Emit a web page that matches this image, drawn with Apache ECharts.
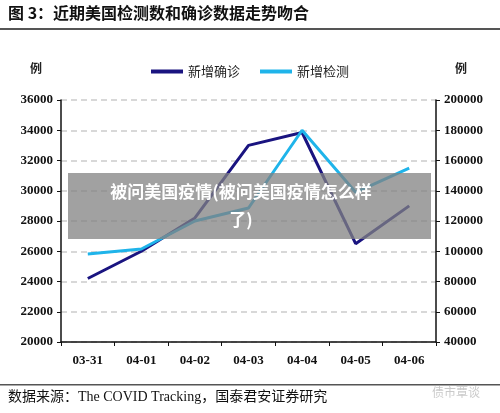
<!DOCTYPE html>
<html><head><meta charset="utf-8">
<script src="https://cdn.jsdelivr.net/npm/echarts@6/dist/echarts.min.js"></script>
<style>html,body{margin:0;padding:0;background:#fff}#c{width:500px;height:413px}</style>
</head><body><div id="c"></div>
<script>
var categories = ['03-31', '04-01', '04-02', '04-03', '04-04', '04-05', '04-06'];
var confirmed = [24200, 26000, 28200, 33000, 33850, 26500, 29000];
var tests = [98200, 101500, 120000, 128600, 180000, 139000, 155000];

var serif = '"Liberation Serif", "Noto Sans CJK SC", serif';
var plain = function(v) { return String(v); };
var chart = echarts.init(document.getElementById('c'));
chart.setOption({
	animation: false,
	textStyle: { fontFamily: serif },
	grid: { left: 61, right: 64, top: 100, bottom: 71 },
	legend: {
		top: 60, left: 'center', itemGap: 20, itemWidth: 32, itemHeight: 4, icon: 'rect',
		textStyle: { fontFamily: '"Noto Sans CJK SC"', fontSize: 13, color: '#222' },
		data: ['新增确诊', '新增检测']
	},
	xAxis: {
		type: 'category', data: categories, boundaryGap: true,
		axisLine: { lineStyle: { color: '#111', width: 1.5 } },
		axisTick: { show: true, inside: false, length: 4, lineStyle: { color: '#111' } },
		axisLabel: { color: '#111', fontWeight: 'bold', fontSize: 13, margin: 12, fontFamily: serif }
	},
	yAxis: [{
		type: 'value', min: 20000, max: 36000, interval: 2000,
		name: '例', nameLocation: 'end', nameGap: 26,
		nameTextStyle: { fontFamily: '"Noto Sans CJK SC"', fontWeight: 'bold', color: '#222', padding: [0, 50, 0, 0] },
		axisLine: { show: true, lineStyle: { color: '#111', width: 1.5 } },
		axisTick: { show: true, length: 4, lineStyle: { color: '#111' } },
		axisLabel: { color: '#111', fontWeight: 'bold', fontSize: 13, fontFamily: serif, formatter: plain },
		splitLine: { lineStyle: { color: '#ccc', type: [6, 4], width: 1.5 } }
	}, {
		type: 'value', min: 40000, max: 200000, interval: 20000,
		name: '例', nameLocation: 'end', nameGap: 26,
		nameTextStyle: { fontFamily: '"Noto Sans CJK SC"', fontWeight: 'bold', color: '#222', padding: [0, 0, 0, 50] },
		axisLine: { show: true, lineStyle: { color: '#111', width: 1.5 } },
		axisTick: { show: true, length: 4, lineStyle: { color: '#111' } },
		axisLabel: { color: '#111', fontWeight: 'bold', fontSize: 13, fontFamily: serif, formatter: plain },
		splitLine: { show: false }
	}],
	series: [{
		name: '新增确诊', type: 'line', data: confirmed, yAxisIndex: 0,
		symbol: 'none', lineStyle: { color: '#1a1480', width: 3 }, itemStyle: { color: '#1a1480' }
	}, {
		name: '新增检测', type: 'line', data: tests, yAxisIndex: 1,
		symbol: 'none', lineStyle: { color: '#1fb4ea', width: 3 }, itemStyle: { color: '#1fb4ea' }
	}],
	graphic: [
		{ type: 'text', left: 8, top: 5, style: { text: '图 3：近期美国检测数和确诊数据走势吻合', font: 'bold 16px "Noto Sans CJK SC"', fill: '#111' } },
		{ type: 'rect', shape: { x: 0, y: 28, width: 500, height: 2 }, style: { fill: '#555' } },
		{ type: 'rect', shape: { x: 0, y: 384, width: 500, height: 1.5 }, style: { fill: '#555' } },
		{ type: 'text', left: 8, top: 390, style: { text: '数据来源：The COVID Tracking，国泰君安证券研究', font: '14px "Liberation Serif", "Noto Sans CJK SC"', fill: '#111' } },
		{ type: 'text', left: 432, top: 386, style: { text: '债市覃谈', font: '12px "Noto Sans CJK SC"', fill: 'rgba(150,150,150,0.5)' } },
		{ type: 'rect', z: 100, shape: { x: 68, y: 173, width: 363, height: 66 }, style: { fill: 'rgba(130,130,130,0.75)' } },
		{ type: 'text', z: 101, x: 241, y: 178, style: { text: '被问美国疫情(被问美国疫情怎么样\n了)', font: 'bold 17px "Noto Sans CJK SC"', fill: '#fff', align: 'center', lineHeight: 28 } }
	]
});
</script></body></html>
